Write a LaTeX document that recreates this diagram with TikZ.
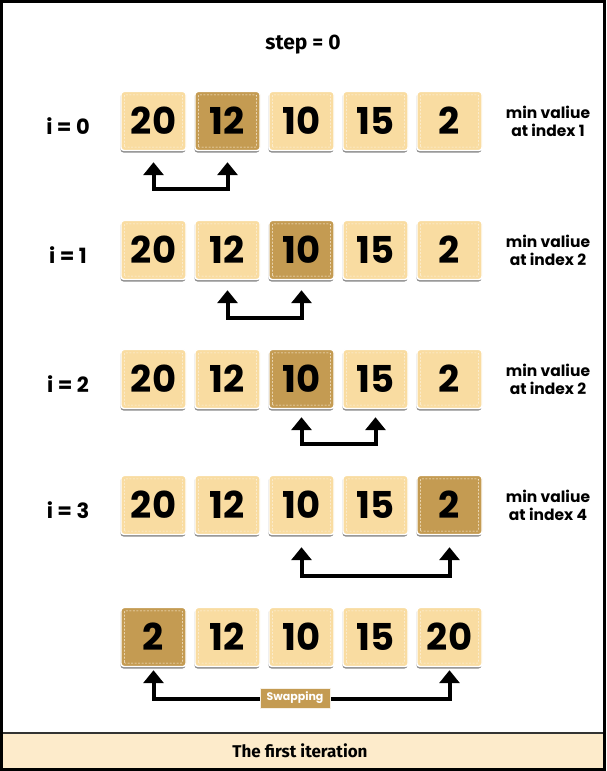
\documentclass[tikz,border=0pt]{standalone}
\usepackage{fontspec}
\setmainfont{Poppins}
\newfontfamily\fira{Fira Sans}
\usetikzlibrary{arrows.meta,calc,shadows}
\definecolor{light}{HTML}{F9DCA1}
\definecolor{dark}{HTML}{C49B52}
\definecolor{band}{HTML}{FDEBCB}
\tikzset{
  tile/.style={minimum width=65pt,minimum height=59pt,rounded corners=3pt,draw=white,line width=1.4pt,
    inner sep=0pt,font=\fontsize{37}{37}\selectfont,
    drop shadow={shadow xshift=-0.5pt,shadow yshift=-2pt,fill=black!45,opacity=1}},
  innerdash/.style={draw=white!70!light,dashed,dash pattern=on 2pt off 1.5pt,line width=0.5pt,rounded corners=1pt},
  ilabel/.style={font=\bfseries\fontsize{21}{21}\selectfont},
  mlabel/.style={font=\bfseries\fontsize{15.5}{18}\selectfont,align=center},
  swaparrow/.style={line width=4pt,line join=miter,
    {Triangle[width=20pt,length=13pt]}-{Triangle[width=20pt,length=13pt]}},
  swaplabel/.style={fill=dark,draw=white!85!dark,line width=1pt,text=white,
    font=\bfseries\fontsize{11}{11}\selectfont,minimum width=70pt,minimum height=20pt,inner sep=0pt}
}
\begin{document}
\begin{tikzpicture}[x=1pt,y=-1pt]
\useasboundingbox (0,0) rectangle (607,771);
\fill[white] (0,0) rectangle (607,771);
\fill[band] (2,733) rectangle (604,769);
\draw[line width=1.2pt,black!80] (2,733) -- (604,733);
\draw[line width=2.5pt] (1.5,1.5) rectangle (604.5,769.5);
\node[font=\fira\bfseries\fontsize{17}{17}\selectfont] (foot) at (300,751) {The first iteration};
\node[font=\fira\bfseries\fontsize{21}{21}\selectfont] (title) at (303,45) {step = 0};

% rows
\foreach \r/\y/\d/\lab in {0/121/1/1,1/250/2/2,2/379/2/2,3/505/4/4}{
  \foreach \v [count=\c from 0] in {20,12,10,15,2}{
    \ifnum\c=\d \def\col{dark}\else\def\col{light}\fi
    \node[tile,fill=\col] (t\r\c) at (153.5+74*\c,\y) {\textbf{\v}};
    \draw[innerdash] ($(t\r\c.south west)+(4,-4)$) rectangle ($(t\r\c.north east)+(-4,4)$);
  }
  \node[ilabel] (i\r) at (68,\y+5) {i = \r};
  \node[mlabel] (m\r) at (548,\y) {min valiue\\at index \lab};
}
\foreach \v [count=\c from 0] in {2,12,10,15,20}{
  \ifnum\c=0 \def\col{dark}\else\def\col{light}\fi
  \node[tile,fill=\col] (t4\c) at (153.5+74*\c,637) {\textbf{\v}};
  \draw[innerdash] ($(t4\c.south west)+(4,-4)$) rectangle ($(t4\c.north east)+(-4,4)$);
}

% arrows
\draw[swaparrow] ($(t00.south)+(0,11)$) -- ++(0,27) -| ($(t01.south)+(0,11)$);
\draw[swaparrow] ($(t11.south)+(0,10)$) -- ++(0,28) -| ($(t12.south)+(0,10)$);
\draw[swaparrow] ($(t22.south)+(0,8)$) -- ++(0,27) -| ($(t23.south)+(0,8)$);
\draw[swaparrow] ($(t32.south)+(0,12)$) -- ++(0,29) -| ($(t34.south)+(0,12)$);
\draw[swaparrow] ($(t40.south)+(0,3)$) -- ++(0,29) -| ($(t44.south)+(0,3)$);
\node[swaplabel] (sw) at (295,698) {Swapping};
\end{tikzpicture}
\end{document}
